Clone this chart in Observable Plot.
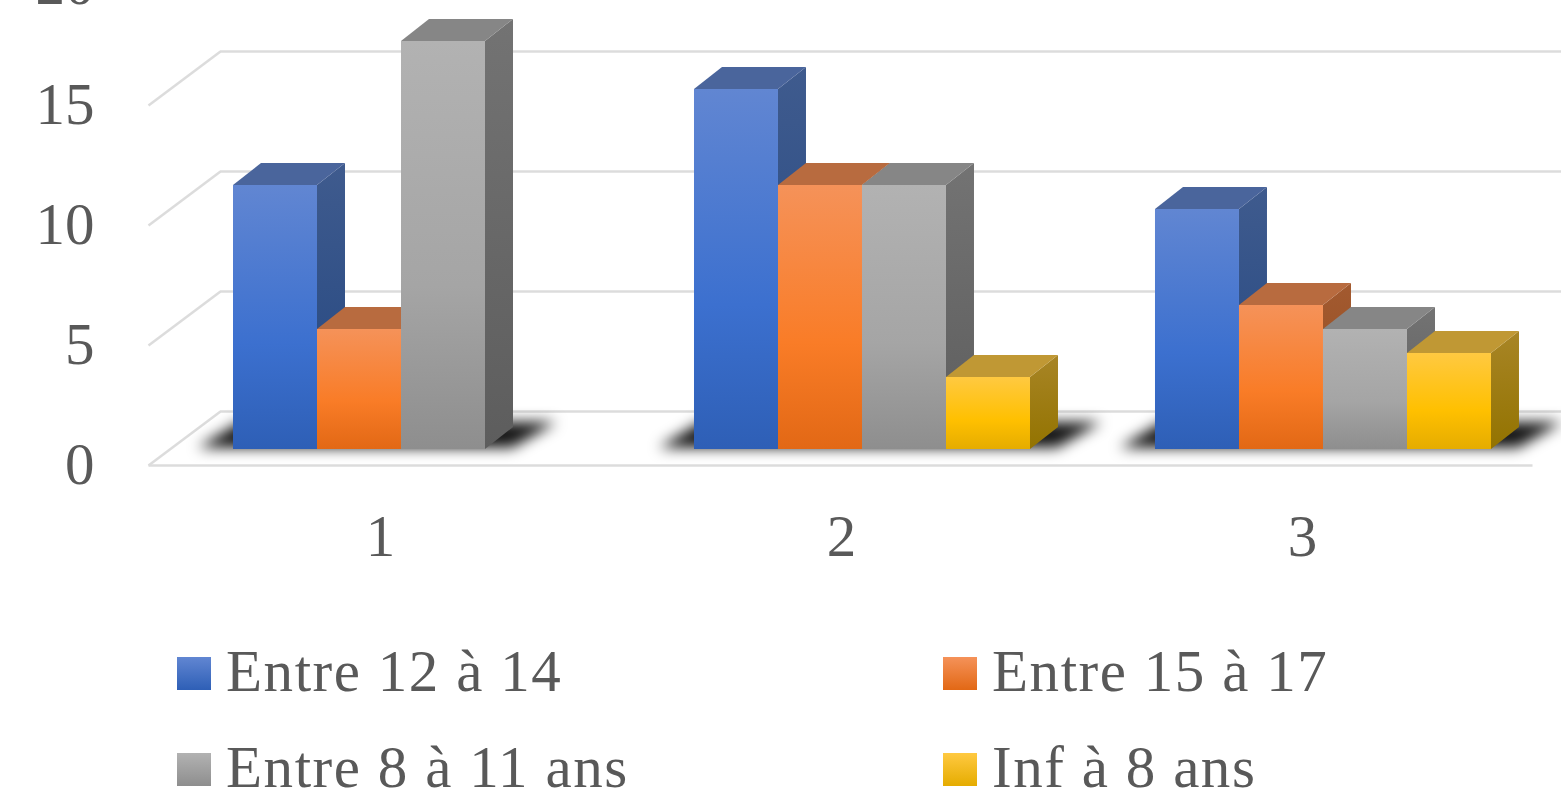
<!DOCTYPE html>
<html>
<head>
<meta charset="utf-8">
<script src="https://cdn.jsdelivr.net/npm/d3@7"></script>
<script src="https://cdn.jsdelivr.net/npm/@observablehq/plot@0.6"></script>
<style>
html,body{margin:0;padding:0;background:#fff;overflow:hidden;width:1561px;height:795px}
#chart svg{display:block;overflow:visible;background:none}
#legend{position:absolute;left:177px;top:0;width:1384px;height:795px;pointer-events:none}
.item{position:absolute;display:flex;align-items:center;font-family:"Liberation Serif",serif;font-size:59px;letter-spacing:1.55px;color:#595959;line-height:96px;height:96px;white-space:nowrap}
.sw{width:34px;height:33px;margin-right:15px;flex:none;position:relative;top:2px}
</style>
</head>
<body>
<div id="chart"></div>
<div id="legend"></div>
<script>
const categories = ["1", "2", "3"];
const seriesNames = ["Entre 12 à 14", "Entre 15 à 17", "Entre 8 à 11 ans", "Inf à 8 ans"];
const entre12a14 = [11, 15, 10];
const entre15a17 = [5, 11, 6];
const entre8a11 = [17, 11, 5];
const infA8 = [0, 3, 4];
const yTicks = [0, 5, 10, 15, 20];
const gridValues = [0, 5, 10, 15];

const seriesValues = [entre12a14, entre15a17, entre8a11, infA8];
const palette = [
  {front:["#6186d2","#3c70cf","#2e5fb6"], top:"#4a659c", side:["#3f5b8e","#234680"]},
  {front:["#f59259","#f97c27","#e26815"], top:"#b86b3f", side:["#a35a30","#8f4a1c"]},
  {front:["#b2b2b2","#a5a5a5","#8e8e8e"], top:"#868686", side:["#737373","#5d5d5d"]},
  {front:["#ffc941","#ffc000","#e5ac00"], top:"#c09834", side:["#a88526","#937300"]}
];

// Projection constants (bar widths for x, value units for y)
const groupStep = 5.488, depthX = 1/3, depthY = 22/24, baseY = 16/24;
const backX = 72/84, backY = 54/24, leftX = -85/84;

function defs() {
  const d = d3.create("svg:defs");
  palette.forEach((p, i) => {
    const f = d.append("linearGradient").attr("id", `front${i}`).attr("x1",0).attr("x2",0).attr("y1",0).attr("y2",1);
    [[0,p.front[0]],[0.6,p.front[1]],[1,p.front[2]]].forEach(([o,c]) => f.append("stop").attr("offset",o).attr("stop-color",c));
    const s = d.append("linearGradient").attr("id", `side${i}`).attr("x1",0).attr("x2",0).attr("y1",0).attr("y2",1);
    [[0,p.side[0]],[1,p.side[1]]].forEach(([o,c]) => s.append("stop").attr("offset",o).attr("stop-color",c));
  });
  d.append("filter").attr("id","soft").attr("x","-20%").attr("y","-80%").attr("width","140%").attr("height","260%")
    .append("feGaussianBlur").attr("stdDeviation",7);
  return d.node();
}

const grid = {stroke:"#dcdcdc", strokeWidth:2.5};
const marks = [defs];

// floor and wall lines
marks.push(Plot.link(gridValues, {x1:leftX, x2:leftX + backX, y1:d=>d, y2:d=>d + backY, ...grid}));
marks.push(Plot.ruleY(gridValues, {y:d=>d + backY, x1:leftX + backX, x2:16, ...grid}));
marks.push(Plot.link([0], {x1:leftX, x2:(1532-233)/84, y1:0, y2:0, ...grid}));

// floor shadows
categories.forEach((c, k) => {
  const start = k * groupStep;
  const count = seriesValues.filter(v => v[k] > 0).length;
  const end = start + count;
  marks.push(Plot.areaX([
    {y:baseY + 0.05, x1:start - 0.42, x2:end + 0.32},
    {y:baseY + 1.12, x1:start + 0.08, x2:end + 0.85}
  ], {y:"y", x1:"x1", x2:"x2", fill:"#000", fillOpacity:0.92, imageFilter:"url(#soft)"}));
});

// bars, drawn left to right so that each covers its neighbour's side
categories.forEach((c, k) => {
  seriesValues.forEach((vals, j) => {
    const v = vals[k];
    if (!v) return;
    const x0 = k * groupStep + j, x1 = x0 + 1;
    const yb = baseY, yt = baseY + v;
    marks.push(Plot.areaY([
      {x:x1, y1:yb, y2:yt},
      {x:x1 + depthX, y1:yb + depthY, y2:yt + depthY}
    ], {x:"x", y1:"y1", y2:"y2", fill:`url(#side${j})`}));
    marks.push(Plot.areaX([
      {y:yt, x1:x0, x2:x1},
      {y:yt + depthY, x1:x0 + depthX, x2:x1 + depthX}
    ], {y:"y", x1:"x1", x2:"x2", fill:palette[j].top}));
    marks.push(Plot.rect([{x1:x0, x2:x1, y1:yb, y2:yt}], {x1:"x1", x2:"x2", y1:"y1", y2:"y2", fill:`url(#front${j})`}));
  });
});

marks.push(Plot.axisY({ticks:yTicks, tickSize:0, tickPadding:0, tickFormat:d=>String(d), label:null, fontSize:59, fill:"#595959", fontFamily:"Liberation Serif", letterSpacing:"-2.5px"}));
marks.push(Plot.axisX({ticks:categories.map((c,k)=>k*groupStep + 1.75), tickSize:0, tickPadding:0, tickFormat:(d,i)=>categories[i], label:null, fontSize:59, fill:"#595959", fontFamily:"Liberation Serif"}));

const chart = Plot.plot({
  width:1561, height:640,
  marginLeft:94, marginRight:0, marginTop:0, marginBottom:126,
  style:{background:"none", overflow:"visible"},
  x:{domain:[-233/84, (1561-233)/84], range:[0,1561]},
  y:{domain:[0,20], range:[465,-15]},
  marks
});
document.getElementById("chart").appendChild(chart);

const legend = document.getElementById("legend");
const positions = [[0,623],[766,623],[0,719],[766,719]];
const swatch = [["#6186d2","#2e5fb6"],["#f59259","#e26815"],["#b2b2b2","#8e8e8e"],["#ffc941","#e5ac00"]];
seriesNames.forEach((name,i) => {
  const it = document.createElement("div");
  it.className = "item";
  it.style.left = positions[i][0] + "px";
  it.style.top = positions[i][1] + "px";
  const sw = document.createElement("span");
  sw.className = "sw";
  sw.style.background = `linear-gradient(${swatch[i][0]},${swatch[i][1]})`;
  it.appendChild(sw);
  it.appendChild(document.createTextNode(name));
  legend.appendChild(it);
});
</script>
</body>
</html>
